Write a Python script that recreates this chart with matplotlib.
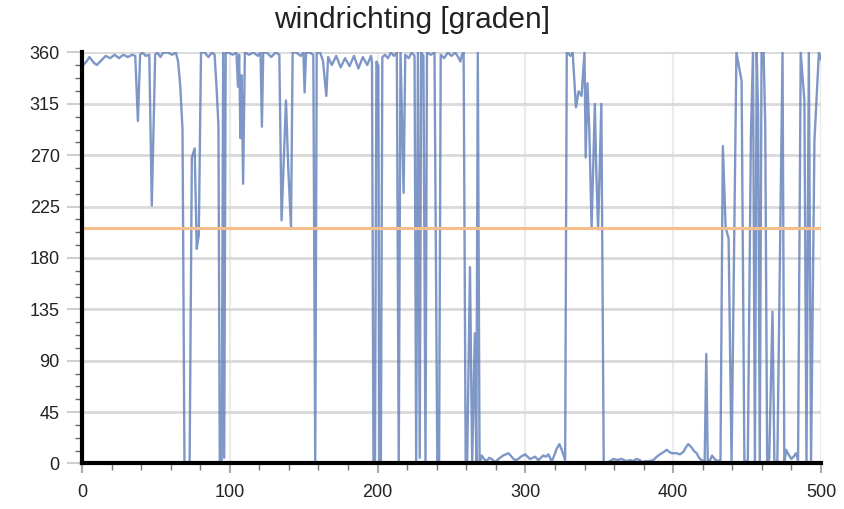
import matplotlib
matplotlib.use("Agg")
import matplotlib.pyplot as plt
from matplotlib.ticker import MultipleLocator

# --- data (sample index vs wind direction in degrees) ---
meting = [
    0, 3, 5, 8, 10, 13, 16, 19, 22, 25, 28, 31, 34, 36, 37.8, 39.3, 41, 43, 45.5, 47.2,
    49.5, 51, 53, 55, 58, 61, 63.5, 65, 66.5, 68, 69.3, 71.5, 72.8, 74.3, 76.2, 77.6, 79,
    80.5, 83, 85.5, 88, 89.7, 91, 92.3, 93.2, 94.5, 95.5, 96.2, 97.2,
    99, 102, 104.5, 105.5, 106.3, 107.2, 108, 109, 110.2, 113, 116, 119, 120.8, 121.7,
    122.6, 125, 128, 131, 133.5, 135, 138, 139.5, 141.4, 142.5, 145, 148, 149.8, 150.6,
    151.6, 154, 156.5, 157.8, 158.8, 161, 163, 165.3, 166.5, 169, 172, 175, 178, 181, 184,
    187, 190, 193, 195.5, 196.2, 197.2, 198.2, 199.2, 200.5, 201.2, 202.2, 203.2,
    205, 207, 209, 211, 213, 214.3, 215.5, 216.5, 217.6, 218.7, 221, 223, 225, 226.1,
    227.3, 228.5, 229.5, 231, 232.4, 233.4, 236, 238.5, 240.4, 241.6, 242.7, 245, 247.5,
    250, 252.5, 254.5, 256, 257, 258.2, 259.6, 260.6, 262.5, 264, 265.8, 266.8, 267.8, 269,
    270.4, 272, 273.8, 275.5, 277.2, 279.5, 281, 282.8, 285, 288.5, 290, 291.9, 293.5,
    295.2, 297, 299.8, 301.5, 303.1, 305, 306.5, 308.8, 310.5, 312.1, 314, 315.5, 317.8,
    319.5, 321.2, 323, 324.6, 326.9, 328,
    328.5, 330.5, 332, 334.2, 336, 338, 340, 340.8, 342, 343.3, 344.8, 346, 347, 348,
    349.2, 350.3, 351.4, 353,
    356, 359.5, 362, 365, 368.5, 371, 373, 375, 377.5, 379, 381, 383.5, 386.6, 389, 391,
    393.5, 395.6, 397.5, 399, 402.3, 404.5, 406.8, 408.5, 410.2, 412.5, 414, 415.9, 417.5,
    419.3, 421.3, 422.4, 423.4, 425, 426.3, 428, 430, 432,
    433.6, 435.5, 437.5, 439.5, 442.8, 446.3, 448.2, 450.5, 452.6, 454, 455.3, 456.5,
    457.5, 458.6, 459.8, 461.2, 462.3, 463.6, 465, 467.2, 468.5, 470.5, 474, 475.2, 476.4,
    478, 480, 481.5, 483, 484.5, 486.3, 488.8, 490.2, 491.8, 493.3, 495.6, 498.6, 500,
]
richting = [
    348, 352, 356, 351, 349, 353, 357, 355, 358, 355, 358, 356, 358, 357, 300, 358, 360, 357, 358, 226,
    358, 360, 356, 360, 360, 358, 360, 352, 330, 292, 0, 0, 2, 268, 276, 188, 200,
    360, 360, 356, 360, 358, 330, 296, 0, 0, 360, 5, 360,
    360, 358, 360, 330, 358, 285, 340, 245, 360, 358, 360, 357, 360, 295,
    360, 360, 356, 360, 358, 213, 318, 260, 207, 360, 360, 357, 360, 325,
    360, 360, 358, 0, 360, 360, 353, 322, 356, 349, 357, 347, 355, 348, 357,
    346, 356, 349, 357, 352, 0, 0, 352, 348, 0, 0, 356,
    358, 355, 360, 357, 360, 0, 360, 300, 237, 358, 355, 360, 357, 0,
    360, 5, 360, 357, 0, 360, 358, 360, 0, 0, 358, 355, 360,
    357, 360, 356, 352, 358, 360, 0, 0, 172, 0, 114, 0, 360, 0,
    7, 4, 2, 5, 4, 1, 3, 5, 7, 9, 7, 4, 3,
    4, 6, 8, 6, 4, 5, 6, 3, 5, 7, 6, 8, 2,
    7, 13, 17, 12, 3, 360,
    360, 357, 360, 312, 326, 322, 360, 268, 333, 290, 206, 265, 315, 255,
    205, 260, 315, 0,
    1, 4, 3, 4, 2, 3, 2, 4, 3, 1, 2, 2, 3, 6, 8,
    10, 12, 10, 9, 9, 8, 10, 14, 17, 14, 11, 9, 5,
    3, 1, 96, 1, 3, 7, 4, 2, 3,
    278, 207, 197, 0, 360, 335, 0, 3, 288, 360, 0, 360,
    304, 0, 360, 360, 296, 0, 4, 133, 0, 2, 360, 0, 12,
    8, 4, 6, 9, 3, 360, 318, 0, 360, 2, 283, 360, 354,
]
gemiddelde = 206

plt.rcParams["font.family"] = ["Liberation Sans", "DejaVu Sans"]

fig = plt.figure(figsize=(8.44, 5.09), dpi=100)
ax = fig.add_axes([0.0972, 0.0894, 0.8755, 0.8075])

ax.plot(meting, richting, color="#5f7db8", lw=1.7, alpha=0.8, zorder=2)
ax.axhline(gemiddelde, color="#f6be8a", lw=2.2, zorder=3)

ax.set_xlim(0, 500)
ax.set_ylim(0, 360)
ax.xaxis.set_major_locator(MultipleLocator(100))
ax.xaxis.set_minor_locator(MultipleLocator(20))
ax.yaxis.set_major_locator(MultipleLocator(45))
ax.yaxis.set_minor_locator(MultipleLocator(11.25))

ax.set_axisbelow(True)
ax.grid(axis="y", which="major", color="#d9d9d9", lw=2)
ax.grid(axis="x", which="major", color="#ebebeb", lw=1.6)

for side in ("top", "right"):
    ax.spines[side].set_visible(False)
for side in ("left", "bottom"):
    ax.spines[side].set_color("black")
    ax.spines[side].set_linewidth(3)
    ax.spines[side].set_zorder(4)

ax.tick_params(axis="y", which="major", length=11, width=1.5, color="#cfcfcf",
               pad=5, labelsize=13, labelcolor="#222222")
ax.tick_params(axis="y", which="minor", length=5, width=1, color="#666666")
ax.tick_params(axis="x", which="major", length=7, width=1.5, color="#aaaaaa",
               pad=8, labelsize=13, labelcolor="#222222")
ax.tick_params(axis="x", which="minor", length=5, width=1, color="#777777")

# title sits centred on the figure, not on the axes
fig.text(0.488, 0.96, "windrichting [graden]", fontsize=21.5, color="#222222",
         ha="center", va="center")

fig.savefig("out.png", dpi=100)
